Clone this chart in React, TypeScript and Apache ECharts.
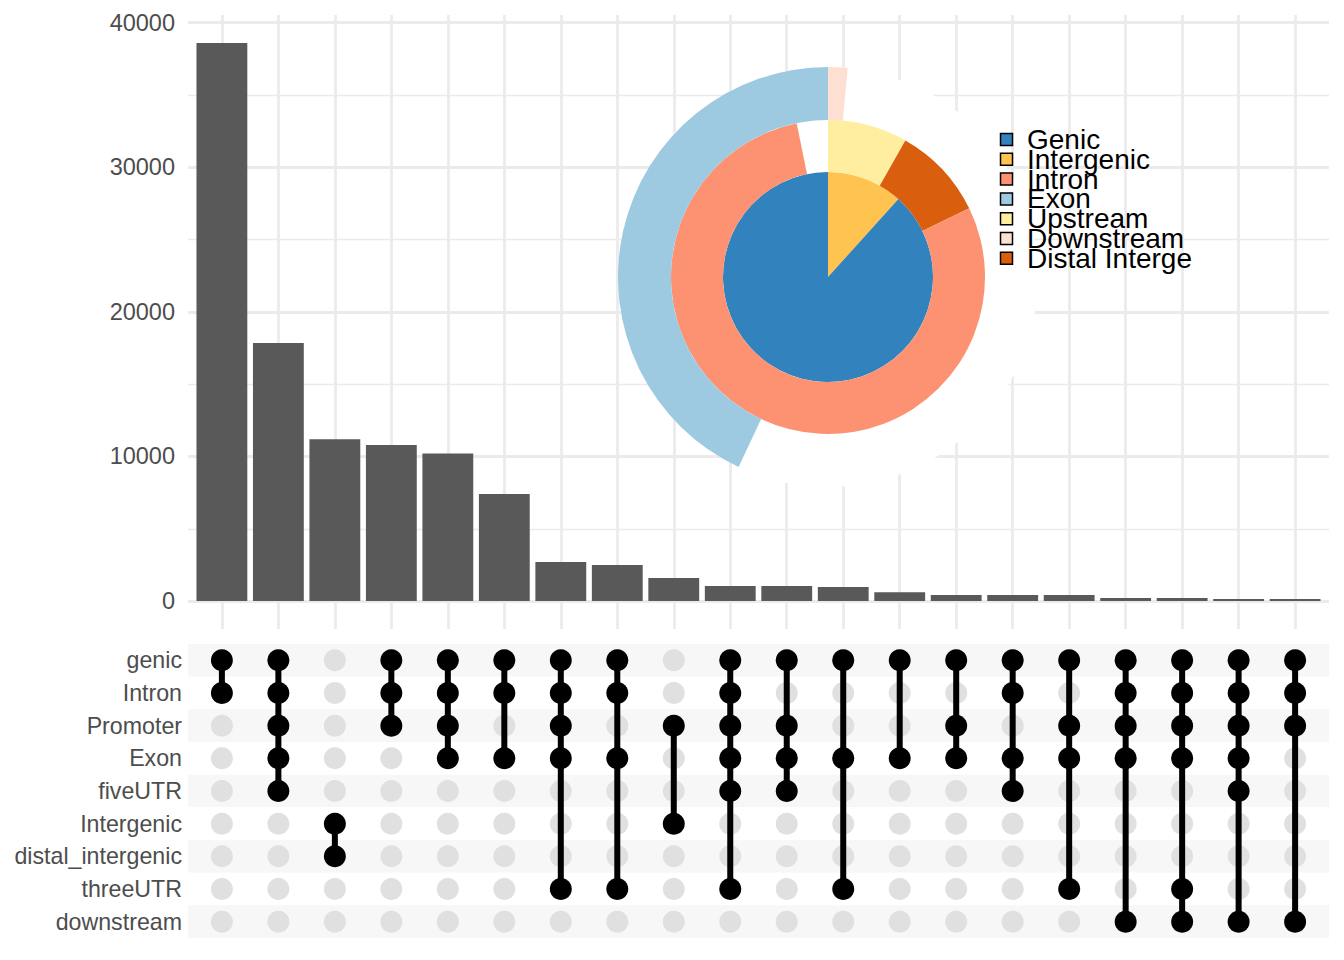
import React, { useEffect, useRef } from "react";
import * as echarts from "echarts";

// ---------- data ----------
const setNames = [
  "genic",
  "Intron",
  "Promoter",
  "Exon",
  "fiveUTR",
  "Intergenic",
  "distal_intergenic",
  "threeUTR",
  "downstream",
];

const intersections: string[][] = [
  ["genic", "Intron"],
  ["genic", "Intron", "Promoter", "Exon", "fiveUTR"],
  ["Intergenic", "distal_intergenic"],
  ["genic", "Intron", "Promoter"],
  ["genic", "Intron", "Promoter", "Exon"],
  ["genic", "Intron", "Exon"],
  ["genic", "Intron", "Promoter", "Exon", "threeUTR"],
  ["genic", "Intron", "Exon", "threeUTR"],
  ["Promoter", "Intergenic"],
  ["genic", "Intron", "Promoter", "Exon", "fiveUTR", "threeUTR"],
  ["genic", "Promoter", "Exon", "fiveUTR"],
  ["genic", "Exon", "threeUTR"],
  ["genic", "Exon"],
  ["genic", "Promoter", "Exon"],
  ["genic", "Intron", "Exon", "fiveUTR"],
  ["genic", "Promoter", "Exon", "threeUTR"],
  ["genic", "Intron", "Promoter", "Exon", "downstream"],
  ["genic", "Intron", "Promoter", "Exon", "threeUTR", "downstream"],
  ["genic", "Intron", "Promoter", "Exon", "fiveUTR", "downstream"],
  ["genic", "Intron", "Promoter", "downstream"],
];

const intersectionSizes = [
  38600, 17850, 11200, 10800, 10200, 7400, 2700, 2500, 1590, 1040, 1040, 970,
  620, 415, 415, 415, 210, 210, 140, 140,
];

// vennpie rings (percent of circle, clockwise from 12 o'clock); "" = empty
const pieInnerNames = ["Intergenic", "Genic"];
const pieInnerValues = [11.7, 88.3];
const pieMiddleNames = ["Upstream", "Distal Intergenic", "Intron", ""];
const pieMiddleValues = [8.2, 9.6, 79.0, 3.2];
const pieOuterNames = ["Downstream", "", "Exon"];
const pieOuterValues = [1.5, 55.5, 43.0];

const legendNames = [
  "Genic",
  "Intergenic",
  "Intron",
  "Exon",
  "Upstream",
  "Downstream",
  "Distal Intergenic",
];

const pieColors: Record<string, string> = {
  Genic: "#3182bd",
  Intergenic: "#fec44f",
  Intron: "#fc9272",
  Exon: "#9ecae1",
  Upstream: "#ffeda0",
  Downstream: "#fee0d2",
  "Distal Intergenic": "#d95f0e",
  "": "rgba(0,0,0,0)",
};

// ---------- styles ----------
const FONT = "Liberation Sans, Arial, Helvetica, sans-serif";
const GRID_COLOR = "#ebebeb";
const AXIS_TEXT = "#4d4d4d";

function buildOption() {
  const n = intersections.length;
  const xMin = 1 - 0.6;
  const xMax = n + 0.6;
  const maxSize = Math.max(...intersectionSizes);
  const yMin = -0.05 * maxSize;
  const yMax = maxSize * 1.05;

  const rowIndex = (s: string) => setNames.indexOf(s);

  const greyDots: number[][] = [];
  const blackDots: number[][] = [];
  intersections.forEach((members, i) => {
    setNames.forEach((s, r) => {
      if (members.includes(s)) blackDots.push([i + 1, r]);
      else greyDots.push([i + 1, r]);
    });
  });
  const segs = intersections.map((members, i) => {
    const idx = members.map(rowIndex);
    return [i + 1, Math.min(...idx), Math.max(...idx)];
  });

  const pieBase = {
    type: "pie",
    center: [828, 277],
    startAngle: 90,
    clockwise: true,
    silent: true,
    avoidLabelOverlap: false,
    label: { show: false },
    labelLine: { show: false },
    emphasis: { disabled: true },
    itemStyle: { borderWidth: 0 },
    z: 5,
  };
  const ring = (names: string[], values: number[]) =>
    names.map((nm, i) => ({
      name: nm,
      value: values[i],
      itemStyle: { color: pieColors[nm] },
    }));

  const legendGraphics: any[] = [];
  legendNames.forEach((nm, i) => {
    const cy = 139.5 + i * 19.8;
    legendGraphics.push({
      type: "rect",
      x: 1000.5,
      y: cy - 6,
      shape: { x: 0, y: 0, width: 12, height: 12 },
      style: { fill: pieColors[nm], stroke: "#000", lineWidth: 1.5 },
      z: 20,
      silent: true,
    });
    legendGraphics.push({
      type: "text",
      x: 1027,
      y: cy,
      style: {
        text: nm,
        fill: "#000",
        fontSize: 28,
        fontFamily: FONT,
        verticalAlign: "middle",
        align: "left",
        width: 172,
        overflow: "truncate",
        ellipsis: "",
      },
      z: 21,
      silent: true,
    });
  });

  return {
    animation: false,
    backgroundColor: "#ffffff",
    textStyle: { fontFamily: FONT },
    grid: [
      { left: 188, top: 15, width: 1141, height: 614 },
      { left: 188, top: 644, width: 1141, height: 294 },
    ],
    xAxis: [
      {
        type: "value",
        gridIndex: 0,
        min: xMin,
        max: xMax,
        splitNumber: n,
        axisLine: { show: false },
        axisTick: { show: false },
        axisLabel: { show: false },
        splitLine: {
          show: true,
          showMinLine: false,
          showMaxLine: false,
          lineStyle: { color: GRID_COLOR, width: 2.8 },
        },
      },
      {
        type: "value",
        gridIndex: 1,
        min: xMin,
        max: xMax,
        axisLine: { show: false },
        axisTick: { show: false },
        axisLabel: { show: false },
        splitLine: { show: false },
      },
    ],
    yAxis: [
      {
        type: "value",
        gridIndex: 0,
        min: yMin,
        max: yMax,
        splitNumber: 5,
        axisLine: { show: false },
        axisTick: { show: false },
        axisLabel: {
          show: true,
          showMinLabel: false,
          showMaxLabel: false,
          color: AXIS_TEXT,
          fontSize: 23.5,
          fontFamily: FONT,
          margin: 13,
          formatter: (v: number) => `${v}`,
        },
        splitLine: {
          show: true,
          showMinLine: false,
          showMaxLine: false,
          lineStyle: { color: GRID_COLOR, width: 2.8 },
        },
        minorTick: { show: false, splitNumber: 2 },
        minorSplitLine: {
          show: true,
          lineStyle: { color: GRID_COLOR, width: 1.4 },
        },
      },
      {
        type: "category",
        gridIndex: 1,
        data: setNames,
        inverse: true,
        axisLine: { show: false },
        axisTick: { show: false },
        axisLabel: {
          color: AXIS_TEXT,
          fontSize: 23.2,
          fontFamily: FONT,
          margin: 6,
        },
        splitLine: { show: false },
        splitArea: {
          show: true,
          areaStyle: { color: ["#f7f7f7", "#ffffff"] },
        },
      },
    ],
    series: [
      {
        type: "bar",
        xAxisIndex: 0,
        yAxisIndex: 0,
        data: intersectionSizes.map((v, i) => [i + 1, v]),
        barWidth: "90%",
        itemStyle: { color: "#595959" },
        silent: true,
        z: 2,
      },
      {
        type: "scatter",
        xAxisIndex: 1,
        yAxisIndex: 1,
        data: greyDots,
        symbol: "circle",
        symbolSize: 22,
        itemStyle: { color: "#e0e0e0", opacity: 1 },
        silent: true,
        z: 2,
      },
      {
        type: "custom",
        xAxisIndex: 1,
        yAxisIndex: 1,
        data: segs,
        encode: { x: 0, y: [1, 2] },
        silent: true,
        z: 3,
        renderItem: (_params: any, api: any) => {
          const a = api.coord([api.value(0), api.value(1)]);
          const b = api.coord([api.value(0), api.value(2)]);
          return {
            type: "line",
            shape: { x1: a[0], y1: a[1], x2: b[0], y2: b[1] },
            style: { stroke: "#000000", lineWidth: 6 },
          };
        },
      },
      {
        type: "scatter",
        xAxisIndex: 1,
        yAxisIndex: 1,
        data: blackDots,
        symbol: "circle",
        symbolSize: 22,
        itemStyle: { color: "#000000", opacity: 1 },
        silent: true,
        z: 4,
      },
      // white disc behind the vennpie
      {
        ...pieBase,
        radius: [0, 210],
        z: 4,
        data: [{ name: "bg", value: 1, itemStyle: { color: "#ffffff" } }],
      },
      {
        ...pieBase,
        radius: [0, 105],
        data: ring(pieInnerNames, pieInnerValues),
      },
      {
        ...pieBase,
        radius: [105, 157],
        data: ring(pieMiddleNames, pieMiddleValues),
      },
      {
        ...pieBase,
        radius: [157, 210],
        data: ring(pieOuterNames, pieOuterValues),
      },
    ],
    graphic: legendGraphics,
  };
}

export default function App() {
  const ref = useRef<HTMLDivElement | null>(null);
  useEffect(() => {
    if (!ref.current) return;
    const chart = echarts.init(ref.current, undefined, { renderer: "svg" });
    chart.setOption(buildOption() as any);
    return () => chart.dispose();
  }, []);
  return (
    <div
      ref={ref}
      style={{
        position: "absolute",
        left: 0,
        top: 0,
        width: 1344,
        height: 960,
        background: "#ffffff",
      }}
    />
  );
}
